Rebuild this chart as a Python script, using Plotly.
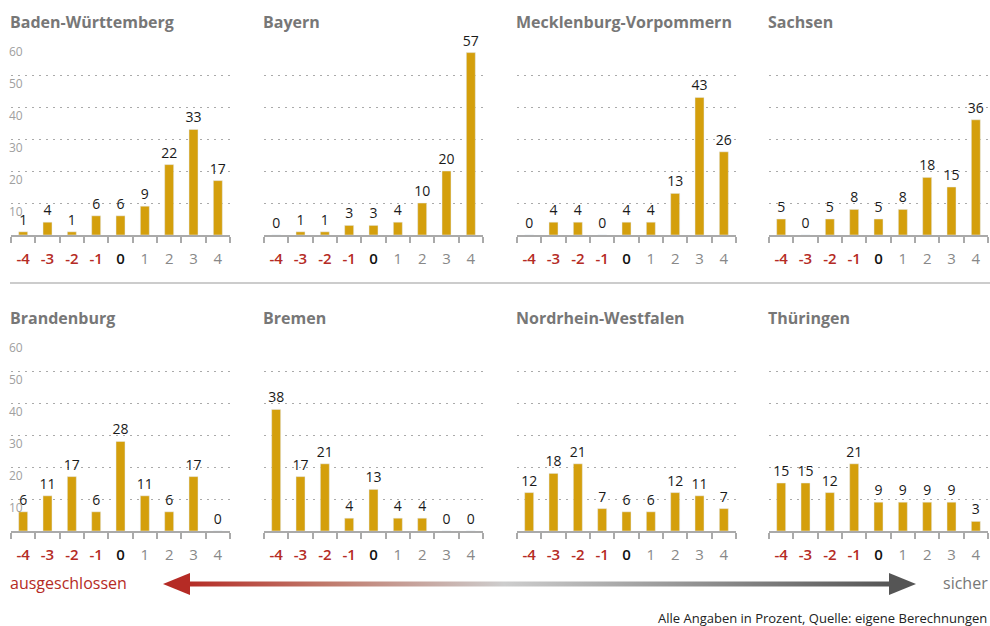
import plotly.graph_objects as go

# --- data ---
categories = [-4, -3, -2, -1, 0, 1, 2, 3, 4]
states = ["Baden-Württemberg", "Bayern", "Mecklenburg-Vorpommern", "Sachsen",
          "Brandenburg", "Bremen", "Nordrhein-Westfalen", "Thüringen"]
bw = [1, 4, 1, 6, 6, 9, 22, 33, 17]
by = [0, 1, 1, 3, 3, 4, 10, 20, 57]
mv = [0, 4, 4, 0, 4, 4, 13, 43, 26]
sn = [5, 0, 5, 8, 5, 8, 18, 15, 36]
bb = [6, 11, 17, 6, 28, 11, 6, 17, 0]
hb = [38, 17, 21, 4, 13, 4, 4, 0, 0]
nw = [12, 18, 21, 7, 6, 6, 12, 11, 7]
th = [15, 15, 12, 21, 9, 9, 9, 9, 3]
values = [bw, by, mv, sn, bb, hb, nw, th]
grid_vals = [10, 20, 30, 40, 50, 60]

RED = "#b52b25"
GOLD = "#d49f0c"
FONT = "Open Sans"
W, H = 990, 626

tick_text = []
for c in categories:
    if c < 0:
        tick_text.append(f'<span style="color:{RED};font-weight:600">{c}</span>')
    elif c == 0:
        tick_text.append(f'<span style="color:#111111;font-weight:600">{c}</span>')
    else:
        tick_text.append(f'<span style="color:#888888">{c}</span>')

panel_x0 = [11, 264, 517, 769]
panel_w = 219
rows = [(43, 235), (339, 531)]   # pixel y of 60 line and baseline

fig = go.Figure()
annotations = []

for i, (name, vals) in enumerate(zip(states, values)):
    r, c = divmod(i, 4)
    n = i + 1
    xa = "x" if n == 1 else f"x{n}"
    ya = "y" if n == 1 else f"y{n}"
    fig.add_trace(go.Bar(
        x=categories, y=vals, xaxis=xa, yaxis=ya,
        marker_color=GOLD, width=0.37,
        text=vals, textposition="outside", cliponaxis=False, constraintext="none",
        textfont=dict(size=14, color="#1a1a1a", family=FONT),
        showlegend=False, hoverinfo="skip",
    ))
    x0 = panel_x0[c]
    top, base = rows[r]
    fig.layout[f"xaxis{'' if n == 1 else n}"] = dict(
        domain=[x0 / W, (x0 + panel_w) / W],
        anchor=ya, range=[-4.5, 4.5],
        tickmode="array", tickvals=categories, ticktext=tick_text,
        ticks="", ticklabelstandoff=9, showgrid=False, zeroline=False,
        showline=True, linecolor="#aaaaaa", linewidth=1.5,
        tickfont=dict(size=15, family=FONT, color="#111"),
        minor=dict(tickmode="array", tickvals=[v + 0.5 for v in [-5] + categories],
                   ticks="outside", ticklen=6, tickcolor="#aaaaaa", tickwidth=1.5,
                   showgrid=False),
        fixedrange=True,
    )
    fig.layout[f"yaxis{'' if n == 1 else n}"] = dict(
        domain=[1 - base / H, 1 - top / H],
        anchor=xa, range=[0, 60],
        tickmode="array", tickvals=grid_vals, showticklabels=False,
        showgrid=True, gridcolor="#aaaaaa", griddash="2px,5px", gridwidth=1.2,
        zeroline=False, showline=False, fixedrange=True,
    )
    annotations.append(dict(
        text=f"<b>{name}</b>", x=(x0 - 3) / W, y=1 - (top - 21) / H,
        xref="paper", yref="paper", xanchor="left", yanchor="middle",
        showarrow=False, font=dict(size=16, color="#777777", family=FONT),
    ))
    if c == 0:
        for g in grid_vals:
            annotations.append(dict(
                text=str(g), x=7 / W, y=g, xref="paper", yref=ya,
                xanchor="left", yanchor="middle", yshift=-8, showarrow=False,
                font=dict(size=12, color="#a0a0a0", family=FONT),
            ))

# --- decoration: arrow across the bottom, drawn on a pixel-scaled axis ---
fig.layout["xaxis9"] = dict(domain=[0, 1], range=[0, W], visible=False,
                            anchor="y9", fixedrange=True)
fig.layout["yaxis9"] = dict(domain=[0, 1], range=[H, 0], visible=False,
                            anchor="x9", fixedrange=True)
ay = 584
fig.add_trace(go.Scatter(
    x=[186, 893, 893, 186, 186], y=[ay - 2.5, ay - 2.5, ay + 2.5, ay + 2.5, ay - 2.5],
    xaxis="x9", yaxis="y9", mode="none", fill="toself",
    fillgradient=dict(type="horizontal",
                      colorscale=[[0, RED], [0.2, "#c07a6c"], [0.45, "#cdcdcd"], [1, "#555555"]]),
    showlegend=False, hoverinfo="skip",
))
fig.add_trace(go.Scatter(
    x=[163, 190, 190, 163], y=[ay, ay - 11, ay + 11, ay],
    xaxis="x9", yaxis="y9", mode="none", fill="toself", fillcolor=RED,
    showlegend=False, hoverinfo="skip",
))
fig.add_trace(go.Scatter(
    x=[916, 889, 889, 916], y=[ay, ay - 11, ay + 11, ay],
    xaxis="x9", yaxis="y9", mode="none", fill="toself", fillcolor="#555555",
    showlegend=False, hoverinfo="skip",
))

annotations += [
    dict(text="ausgeschlossen", x=8 / W, y=1 - 583 / H, xref="paper", yref="paper",
         xanchor="left", yanchor="middle", showarrow=False,
         font=dict(size=16, color=RED, family=FONT)),
    dict(text="sicher", x=990 / W, y=1 - 583 / H, xref="paper", yref="paper",
         xanchor="right", yanchor="middle", showarrow=False,
         font=dict(size=16, color="#777777", family=FONT)),
    dict(text="Alle Angaben in Prozent, Quelle: eigene Berechnungen", x=989 / W,
         y=1 - 618 / H, xref="paper", yref="paper", xanchor="right", yanchor="middle",
         showarrow=False, font=dict(size=13, color="#222222", family=FONT)),
]

fig.update_layout(
    width=W, height=H, margin=dict(l=0, r=0, t=0, b=0),
    paper_bgcolor="white", plot_bgcolor="rgba(0,0,0,0)",
    annotations=annotations,
    shapes=[dict(type="line", xref="paper", yref="paper",
                 x0=10 / W, x1=990 / W, y0=1 - 283 / H, y1=1 - 283 / H,
                 line=dict(color="#bbbbbb", width=1.5))],
    font=dict(family=FONT),
)

fig.write_html("out.html", config={"displayModeBar": False},
               post_script="document.body.style.margin='0';document.body.style.overflow='hidden';")
